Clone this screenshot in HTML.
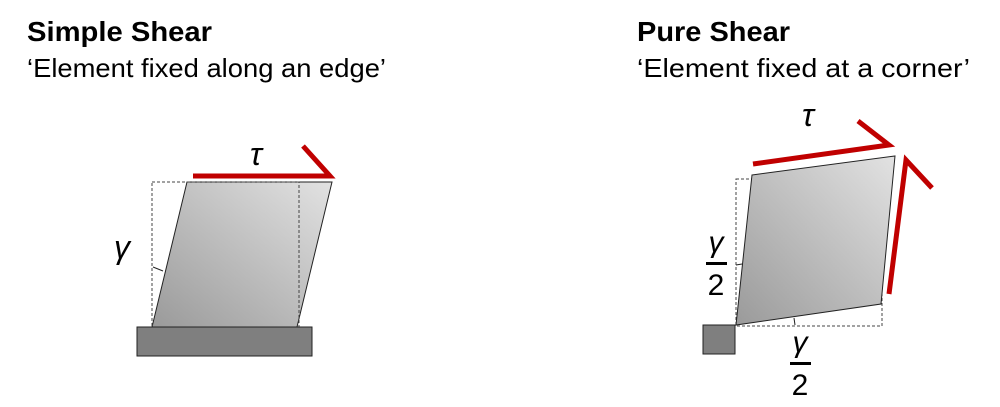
<!DOCTYPE html>
<html><head><meta charset="utf-8"><style>
html,body{margin:0;padding:0;background:#fff;width:1000px;height:407px;overflow:hidden}
svg text{font-family:"Liberation Sans",sans-serif}
</style></head><body>
<svg width="1000" height="407" viewBox="0 0 1000 407">
<defs>
<linearGradient id="g1" x1="0" y1="1" x2="1" y2="0">
<stop offset="0" stop-color="#9a9a9a"/><stop offset="1" stop-color="#e2e2e2"/></linearGradient>
</defs>
<text x="27" y="41" font-size="28" font-weight="bold" textLength="185" lengthAdjust="spacingAndGlyphs">Simple Shear</text>
<text x="27" y="77" font-size="26" textLength="359" lengthAdjust="spacingAndGlyphs">‘Element fixed along an edge’</text>
<text x="637" y="41" font-size="28" font-weight="bold" textLength="153" lengthAdjust="spacingAndGlyphs">Pure Shear</text>
<text x="637" y="77" font-size="26" textLength="333" lengthAdjust="spacingAndGlyphs">‘Element fixed at a corner’</text>

<g>
<polygon points="187,182 332,182 297,327 152,327" fill="url(#g1)" stroke="#222" stroke-width="1"/>
<rect x="152" y="182" width="147" height="145" fill="none" stroke="#444" stroke-width="1" stroke-dasharray="3,2"/>
<rect x="137" y="327" width="175" height="29" fill="#7f7f7f" stroke="#222" stroke-width="1"/>
<polyline points="193,176 330,176 303,146" fill="none" stroke="#c00000" stroke-width="5"/>
<line x1="153" y1="267" x2="163" y2="271" stroke="#222" stroke-width="1"/>
<text x="250" y="165" font-size="32" font-style="italic" font-family="Liberation Serif">τ</text>
<text x="114" y="258" font-size="32" font-style="italic" font-family="Liberation Serif">γ</text>
</g>

<g>
<rect x="736" y="179" width="146" height="147" fill="none" stroke="#444" stroke-width="1" stroke-dasharray="3,2"/>
<polygon points="752,175 895,156 881,304 736,325" fill="url(#g1)" stroke="#222" stroke-width="1"/>
<rect x="703" y="325" width="32" height="29" fill="#7f7f7f" stroke="#222" stroke-width="1"/>
<polyline points="753,164 889,145 858,121" fill="none" stroke="#c00000" stroke-width="5"/>
<polyline points="889,294 906,160 932,188" fill="none" stroke="#c00000" stroke-width="5"/>
<line x1="736" y1="265" x2="742" y2="264" stroke="#222"/>
<line x1="794" y1="318" x2="795" y2="325" stroke="#222"/>
<text x="802" y="126" font-size="32" font-style="italic" font-family="Liberation Serif">τ</text>
<g>
<text x="716" y="252" font-size="30" font-style="italic" font-family="Liberation Serif" text-anchor="middle">γ</text>
<rect x="706" y="262" width="21" height="3" fill="#000"/>
<text x="716" y="295" font-size="30" text-anchor="middle">2</text>
</g>
<g>
<text x="800" y="352" font-size="30" font-style="italic" font-family="Liberation Serif" text-anchor="middle">γ</text>
<rect x="790" y="362" width="21" height="3" fill="#000"/>
<text x="800" y="395" font-size="30" text-anchor="middle">2</text>
</g>
</g>
</svg>
</body></html>
